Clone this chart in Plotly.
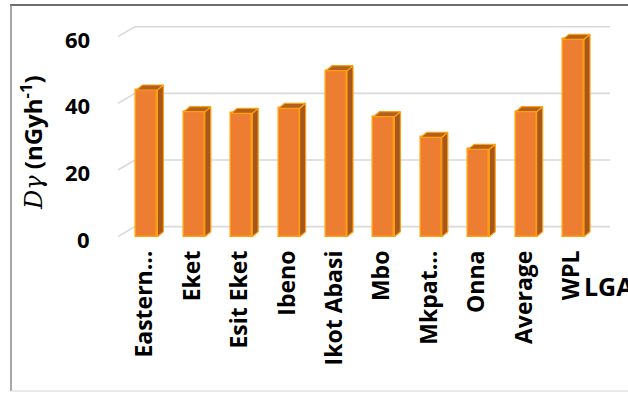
import plotly.graph_objects as go

categories = ["Eastern…", "Eket", "Esit Eket", "Ibeno", "Ikot Abasi", "Mbo", "Mkpat…", "Onna", "Average", "WPL"]
values = [44.0, 37.5, 37.0, 38.5, 49.8, 36.0, 29.8, 26.2, 37.5, 59.2]
y_ticks = [0, 20, 40, 60]

# plot geometry (px) -> data conversions
W, H = 628, 394
L, R, T, B = 118, 18, 26, 154
x_range = [-0.61, 9.77]
y_range = [-1.0, 63.2]
pw, ph = W - L - R, H - T - B
ppx = pw / (x_range[1] - x_range[0])
ppy = ph / (y_range[1] - y_range[0])

bw = 21 / ppx          # front face width
dx = 6 / ppx           # bar depth offsets
dy = 5 / ppy
gdx = 17 / ppx         # back wall offsets
gdy = 10 / ppy

def px_x(px):
    return (px - L) / pw

def px_y(py):
    return (H - B - py) / ph

FRONT = "#ED7D31"
EDGE = "#FF9E0F"
SIDE = "#A5571C"
TOP = "#B0601F"

fig = go.Figure()

sx, sy, tx, ty = [], [], [], []
for i, v in enumerate(values):
    r = i + bw / 2
    l = i - bw / 2
    sx += [r, r + dx, r + dx, r, r, None]
    sy += [0, dy, v + dy, v, 0, None]
    tx += [l, l + dx, r + dx, r, l, None]
    ty += [v, v + dy, v + dy, v, v, None]

fig.add_trace(go.Scatter(x=sx, y=sy, mode="lines", fill="toself", fillcolor=SIDE,
                         line=dict(color=EDGE, width=1.2), hoverinfo="skip", showlegend=False))
fig.add_trace(go.Scatter(x=tx, y=ty, mode="lines", fill="toself", fillcolor=TOP,
                         line=dict(color=EDGE, width=1.2), hoverinfo="skip", showlegend=False))
fig.add_trace(go.Bar(x=list(range(len(categories))), y=values, width=bw,
                     marker=dict(color=FRONT, line=dict(color=EDGE, width=1.5)),
                     showlegend=False))

for v in y_ticks:
    fig.add_shape(type="path", xref="x", yref="y", layer="below",
                  path=f"M {x_range[0]},{v} L {x_range[0] + gdx},{v + gdy} L {x_range[1]},{v + gdy}",
                  line=dict(color="#D9D9D9", width=1.6))
    fig.add_annotation(x=px_x(92), xref="paper", y=v, yref="y", yshift=-2,
                       text=str(v), showarrow=False, xanchor="right", yanchor="middle",
                       font=dict(family="Open Sans", size=22, color="#000000", weight="bold"))

# frame
fig.add_shape(type="line", xref="paper", yref="paper", x0=px_x(10), x1=px_x(640), y0=px_y(5), y1=px_y(5),
              line=dict(color="#6E6E6E", width=2))
fig.add_shape(type="line", xref="paper", yref="paper", x0=px_x(11), x1=px_x(11), y0=px_y(5), y1=px_y(391),
              line=dict(color="#8A8A8A", width=1.5))
fig.add_shape(type="line", xref="paper", yref="paper", x0=px_x(11), x1=px_x(640), y0=px_y(391), y1=px_y(391),
              line=dict(color="#E3E3E3", width=1.5))

fig.add_annotation(x=px_x(31), y=px_y(143), xref="paper", yref="paper", textangle=-90,
                   text="<span style='font-family:DejaVu Serif;font-weight:normal'><i>Dγ</i></span> (nGyh<sup>-1</sup>)",
                   showarrow=False, xanchor="center", yanchor="middle",
                   font=dict(family="Open Sans", size=24, color="#000000", weight="bold"))
fig.add_annotation(x=px_x(582), y=px_y(286), xref="paper", yref="paper",
                   text="LGA", showarrow=False, xanchor="left", yanchor="middle",
                   font=dict(family="Open Sans", size=25, color="#000000", weight="bold"))

fig.update_layout(
    width=W, height=H, margin=dict(l=L, r=R, t=T, b=B),
    paper_bgcolor="white", plot_bgcolor="white",
    bargap=0,
    xaxis=dict(range=x_range, tickmode="array", tickvals=list(range(len(categories))),
               ticktext=categories, tickangle=-90, showgrid=False, zeroline=False,
               showline=False, ticks="", ticklabelstandoff=5, ticklabelshift=-2,
               tickfont=dict(family="Open Sans", size=23, color="#000000", weight="bold")),
    yaxis=dict(range=y_range, showgrid=False, zeroline=False, showline=False,
               showticklabels=False, ticks=""),
)

fig.write_html("out.html")
